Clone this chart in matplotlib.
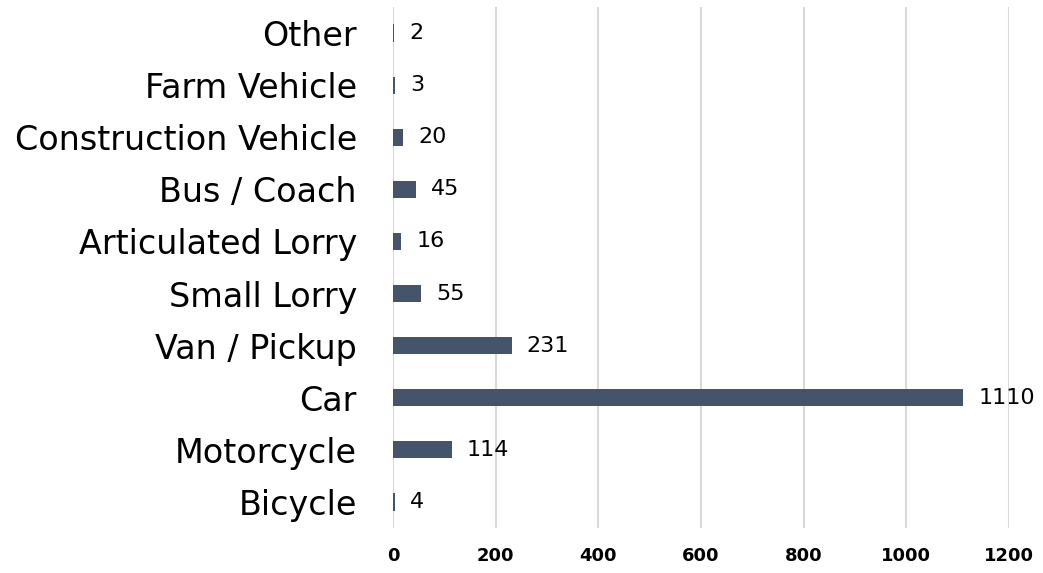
import matplotlib
matplotlib.use("Agg")
import matplotlib.pyplot as plt

categories = ["Bicycle", "Motorcycle", "Car", "Van / Pickup", "Small Lorry",
              "Articulated Lorry", "Bus / Coach", "Construction Vehicle",
              "Farm Vehicle", "Other"]
values = [4, 114, 1110, 231, 55, 16, 45, 20, 3, 2]
xticks = [0, 200, 400, 600, 800, 1000, 1200]

plt.rcParams['font.family'] = ['DejaVu Sans']
fig = plt.figure(figsize=(10.43, 5.73), dpi=100)
ax = fig.add_axes([393/1043, 45/573, 616/1043, 521/573])

y = range(len(categories))
ax.barh(y, values, height=0.33, color="#44546A", zorder=3)
for yi, v in zip(y, values):
    ax.annotate(str(v), xy=(v, yi), xytext=(11, 0), textcoords="offset points",
                va="center", ha="left", fontsize=16, color="black")

ax.set_xlim(0, 1200)
ax.set_ylim(-0.5, len(categories) - 0.5)
ax.set_yticks(list(y))
ax.set_yticklabels(categories, fontsize=24)
ax.set_xticks(xticks)
ax.set_xticklabels([str(t) for t in xticks], fontsize=13, fontweight="bold")
ax.grid(axis="x", color="#D9D9D9", linewidth=1.5, zorder=0)
for s in ax.spines.values():
    s.set_visible(False)
ax.tick_params(axis="both", length=0)
ax.tick_params(axis="y", pad=26)
ax.tick_params(axis="x", pad=14)

fig.savefig("out.png", dpi=100, facecolor="white")
